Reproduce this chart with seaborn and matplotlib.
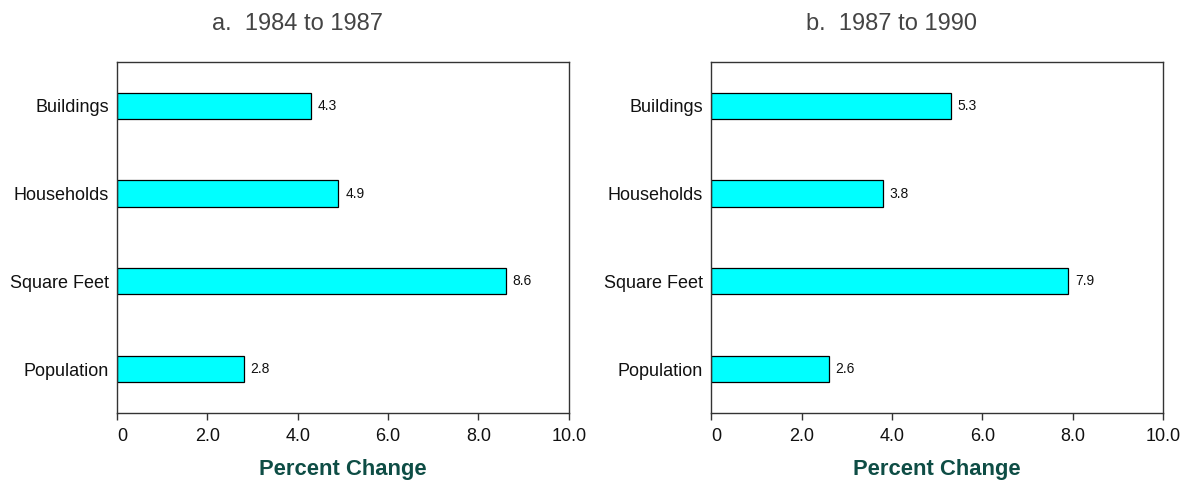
import numpy as np
import pandas as pd
import seaborn as sns
import matplotlib.pyplot as plt

categories = ["Buildings", "Households", "Square Feet", "Population"]
change_84_87 = [4.3, 4.9, 8.6, 2.8]
change_87_90 = [5.3, 3.8, 7.9, 2.6]
titles = ["a.  1984 to 1987", "b.  1987 to 1990"]
xticks = [0, 2, 4, 6, 8, 10]
xtick_labels = ["0", "2.0", "4.0", "6.0", "8.0", "10.0"]

sns.set_theme(style="white")
plt.rcParams['font.family'] = ['Liberation Sans', 'DejaVu Sans']

fig, axes = plt.subplots(1, 2, figsize=(11.88, 4.83), dpi=100)
fig.subplots_adjust(left=0.0985, right=0.979, top=0.872, bottom=0.145, wspace=0.315)

for ax, vals, title, cx in zip(axes, [change_84_87, change_87_90], titles, [0.25, 0.75]):
    df = pd.DataFrame({"Category": categories, "Change": vals})
    sns.barplot(data=df, x="Change", y="Category", ax=ax, color="#00FFFF",
                saturation=1, width=0.3, edgecolor="black", linewidth=0.9)
    for i, v in enumerate(vals):
        ax.text(v + 0.15, i, f"{v:.1f}", va="center", ha="left", fontsize=10, color="#111111")
    ax.set_xlim(0, 10)
    ax.set_ylim(3.5, -0.5)
    ax.set_xticks(xticks)
    ax.set_xticklabels(xtick_labels, fontsize=13)
    ax.get_xticklabels()[0].set_horizontalalignment("left")
    ax.tick_params(axis="x", bottom=True, length=5, width=1, color="#333333", pad=6, labelcolor="#111111")
    ax.tick_params(axis="y", left=False, length=0, labelsize=13, pad=6, labelcolor="#111111")
    ax.set_ylabel("")
    ax.set_xlabel("Percent Change", fontsize=15.8, fontweight="bold", color="#0E4D45", labelpad=10)
    fig.text(cx, 1 - 24 / 483, title, fontsize=17, color="#444444", ha="center", va="center")
    for s in ax.spines.values():
        s.set_color("#333333")
        s.set_linewidth(1)

fig.savefig("out.png", dpi=100)
